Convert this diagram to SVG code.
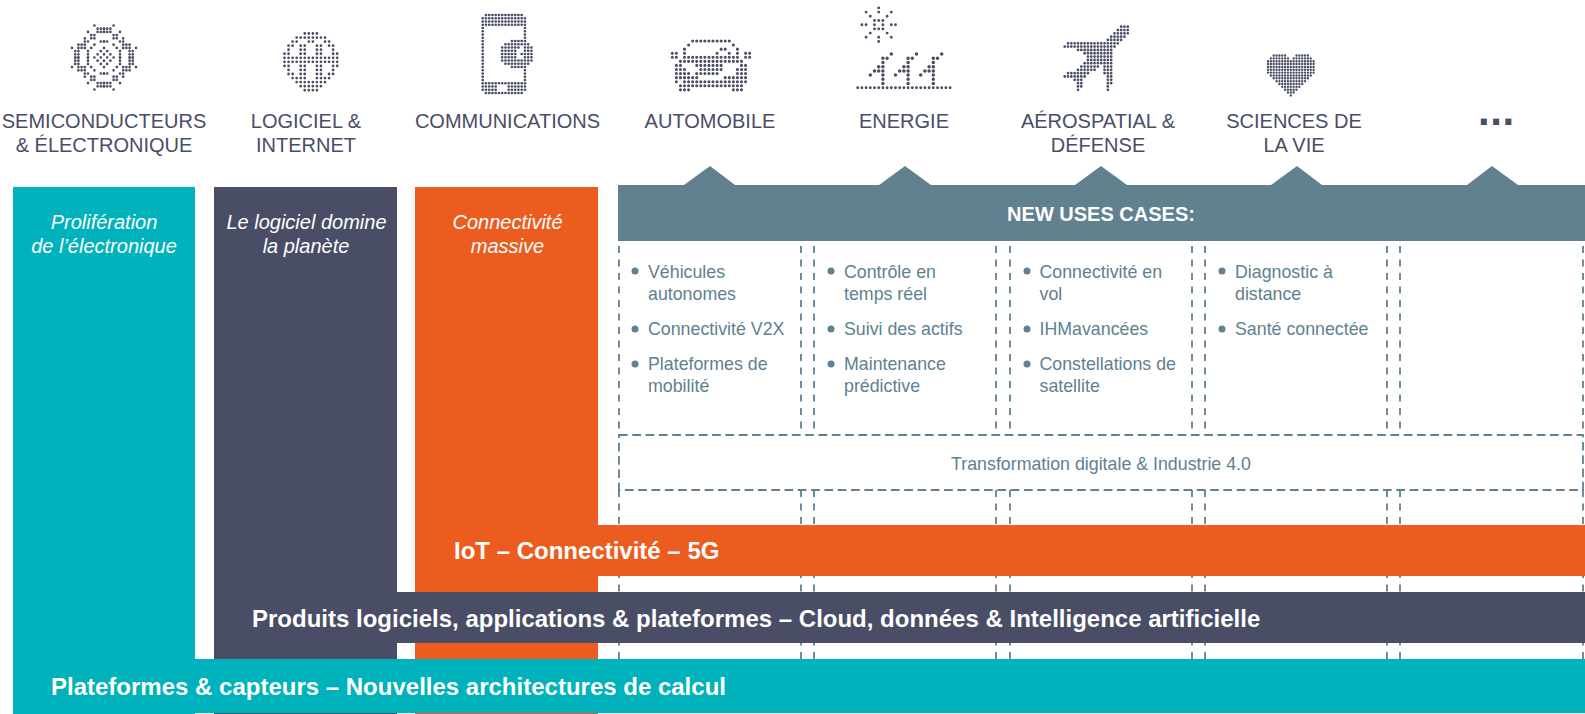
<svg xmlns="http://www.w3.org/2000/svg" xmlns:xlink="http://www.w3.org/1999/xlink" width="1585" height="714" viewBox="0 0 1585 714">
<style>
text{font-family:"Liberation Sans",Arial,sans-serif}
.h{font-size:20px;fill:#4A4D66;text-anchor:middle}
.i{font-size:20px;font-style:italic;fill:#fff;text-anchor:middle}
.b{font-size:24px;font-weight:700;fill:#fff}
.u{font-size:17.8px;fill:#618090}
.d{fill:none;stroke:#4A4D66;stroke-width:.84;stroke-linecap:round;stroke-dasharray:0 1}
.v{fill:none;stroke:#618090;stroke-width:1.8;stroke-dasharray:7 6.5}
.x{fill:none;stroke:#618090;stroke-width:1.8;stroke-dasharray:8.7 4.6}
.t{fill:#618090}
</style>
<defs>
<path id="sq" class="d" d="M-3-10h.1M-2-9H0.1M-5-8h.1M-2-8H0.1M-4-7H-2.9M-6-6h.1M-4-6H-2.9M-6-5H-4.9M-1-5H0.1M-8-4H-5.9M-3-4h.1M-10-3h.1M-8-3H-5.9M-4-3h.1M-9-2H-7.9M-5-2h.1M-9-1H-7.9M-5-1h.1M-9 0H-7.9M-5 0h.1"/>
<path id="pv" class="d" d="M6-7V-.9M8-8h.1M7-7h.1M5-5h.1M4-4h.1M5-4h.1M3-3h.1"/>
</defs>

<g id="bars">
<rect x="13" y="187" width="182" height="527" fill="#00B2BB"/>
<rect x="214" y="187" width="183" height="527" fill="#4A4D66"/>
<rect x="415" y="187" width="183" height="527" fill="#EC5C1F"/>
</g>

<g id="connectors">
<path class="v" d="M801 246V430M814 246V430M996 246V430M1010 246V430M1192 246V430M1205 246V430M1387 246V430M1400 246V430M619 246V430M1583 246V430"/>
<path class="v" d="M619 490V660M801 490V660M814 490V660M996 490V660M1010 490V660M1192 490V660M1205 490V660M1387 490V660M1400 490V660M1583 490V660"/>
</g>

<g id="icon-semi">
<g transform="translate(104 57.5) scale(3.2)">
<use xlink:href="#sq"/><use xlink:href="#sq" transform="scale(-1 1)"/><use xlink:href="#sq" transform="scale(1 -1)"/><use xlink:href="#sq" transform="scale(-1 -1)"/>
<path class="d" d="M0-3h.1M-1-2h.1M-2-1h.1M-3 0h.1M1-2h.1M0-1h.1M-1 0h.1M-2 1h.1M2-1h.1M1 0h.1M0 1h.1M-1 2h.1M3 0h.1M2 1h.1M1 2h.1M0 3h.1"/>
</g>
</g>
<g id="icon-globe">
<path class="d" style="stroke-width:.68" transform="translate(284.5 33.5) scale(4.05)" d="M5 0H8.1M3 1H10.1M2 2H3.1M6 2H7.1M10 2H11.1M1 3H2.1M4 3H5.1M8 3H9.1M11 3H12.1M1 4h.1M4 4H5.1M8 4H9.1M12 4h.1M0 5H1.1M4 5H5.1M8 5H9.1M12 5H13.1M0 6H13.1M0 7H13.1M0 8H1.1M4 8H5.1M8 8H9.1M12 8H13.1M1 9h.1M4 9H5.1M8 9H9.1M12 9h.1M1 10H2.1M4 10H5.1M8 10H9.1M11 10H12.1M2 11H3.1M4 11H5.1M8 11H9.1M10 11H11.1M3 12H10.1M4 13H9.1M5 14H8.1"/>
</g>
<g id="icon-phone">
<path class="d" transform="translate(482.7 15) scale(3.25)" d="M1 0H12.1M0 1H13.1M0 2H13.1M0 3H13.1M0 4V20.1M13 4V7.1M13 17V20.1M9 8H13.1M7 9H14.1M6 10H11.1M13 10H15.1M6 11H10.1M13 11H15.1M6 12H10.1M12 12H15.1M6 13H10.1M13 13H15.1M6 14H15.1M7 15H14.1M9 16H13.1M0 21H13.1M0 22H4.1M8 22H13.1M0 23H4.1M8 23H13.1M1 24H12.1"/>
</g>
<g id="icon-car">
<path class="d" style="stroke-width:.76" transform="translate(672.3 41) scale(4.07)" d="M5 0H14.1M4 1h.1M15 1h.1M3 2h.1M12 2H13.1M16 2h.1M0 3H1.1M3 3h.1M11 3h.1M14 3h.1M16 3h.1M18 3H19.1M0 4H1.1M3 4H16.1M18 4H19.1M2 5H17.1M1 6H2.1M6 6H12.1M17 6H18.1M1 7H3.1M7 7H12.1M16 7H18.1M1 8H4.1M6 8H11.1M16 8H18.1M1 9H6.1M13 9H18.1M1 10h.1M3 10H17.1M18 10h.1M2 11H17.1M2 12H4.1M15 12H17.1"/>
</g>
<g id="icon-energy">
<g transform="translate(857.7 87.7) scale(4.2)">
<path class="d" style="stroke-width:.68" d="M0 0H22.1M5-19V-17.9M5-12V-10.9M1-15H2.1M8-15H9.1M2-18h.1M3-17h.1M8-18h.1M7-17h.1M3-13h.1M2-12h.1M7-13h.1M8-12h.1M4-16H6.1M4-15h.1M6-15h.1M4-14H6.1"/>
<use xlink:href="#pv" style="stroke-width:.68"/><use xlink:href="#pv" x="6"/><use xlink:href="#pv" x="12"/>
</g>
</g>
<g id="icon-plane">
<path class="d" transform="translate(1064.7 26.7) scale(3.32)" d="M17 0H19.1M16 1H19.1M15 2H19.1M14 3H18.1M13 4H17.1M1 5H16.1M0 6H15.1M4 7H14.1M6 8H14.1M7 9H14.1M7 10H14.1M6 11H14.1M5 12H10.1M12 12H14.1M4 13H9.1M12 13H14.1M1 14H7.1M12 14H14.1M0 15H6.1M13 15H14.1M3 16H5.1M13 16H14.1M4 17H5.1M13 17H14.1M4 18H5.1M13 18h.1M4 19h.1M13 19h.1"/>
</g>
<g id="icon-heart">
<path class="d" transform="translate(1268 55.5) scale(2.85)" d="M2 0H6.1M10 0H14.1M1 1H7.1M9 1H15.1M0 2H16.1M0 3H16.1M0 4H16.1M0 5H16.1M0 6H16.1M1 7H15.1M2 8H14.1M3 9H13.1M4 10H12.1M5 11H11.1M6 12H10.1M7 13H9.1M8 14h.1"/>
</g>

<g id="labels">
<text class="h" x="104" y="128">SEMICONDUCTEURS</text><text class="h" x="104" y="152">&amp; ÉLECTRONIQUE</text>
<text class="h" x="306" y="128">LOGICIEL &amp;</text><text class="h" x="306" y="152">INTERNET</text>
<text class="h" x="507.5" y="128">COMMUNICATIONS</text>
<text class="h" x="710" y="128">AUTOMOBILE</text>
<text class="h" x="904" y="128">ENERGIE</text>
<text class="h" x="1098" y="128">AÉROSPATIAL &amp;</text><text class="h" x="1098" y="152">DÉFENSE</text>
<text class="h" x="1294" y="128">SCIENCES DE</text><text class="h" x="1294" y="152">LA VIE</text>
<text x="1478" y="125" style="font-size:42px;font-weight:700;fill:#4A4D66;letter-spacing:.6px">...</text>
</g>

<g id="banner">
<path class="t" d="M618 185H684L710 166L735 185H879L905 166L931 185H1075L1101 166L1127 185H1271L1297 166L1322 185H1467L1492 166L1518 185H1585V241H618Z"/>
<text x="1101" y="221" text-anchor="middle" style="font-size:20px;font-weight:700;fill:#fff">NEW USES CASES:</text>
</g>

<g id="bar-labels">
<text class="i" x="104" y="229">Prolifération</text><text class="i" x="104" y="253">de l’électronique</text>
<text class="i" x="306.5" y="229">Le logiciel domine</text><text class="i" x="306" y="253">la planète</text>
<text class="i" x="507.5" y="229">Connectivité</text><text class="i" x="507.5" y="253">massive</text>
</g>

<g id="uses-auto">
<circle class="t" cx="635" cy="271" r="3.5"/><text class="u" x="648" y="278">Véhicules</text><text class="u" x="648" y="300">autonomes</text>
<circle class="t" cx="635" cy="329" r="3.5"/><text class="u" x="648" y="335">Connectivité V2X</text>
<circle class="t" cx="635" cy="364" r="3.5"/><text class="u" x="648" y="370">Plateformes de</text><text class="u" x="648" y="392">mobilité</text>
</g>
<g id="uses-energy">
<circle class="t" cx="831" cy="271" r="3.5"/><text class="u" x="844" y="278">Contrôle en</text><text class="u" x="844" y="300">temps réel</text>
<circle class="t" cx="831" cy="329" r="3.5"/><text class="u" x="844" y="335">Suivi des actifs</text>
<circle class="t" cx="831" cy="364" r="3.5"/><text class="u" x="844" y="370">Maintenance</text><text class="u" x="844" y="392">prédictive</text>
</g>
<g id="uses-aero">
<circle class="t" cx="1027" cy="271" r="3.5"/><text class="u" x="1039.5" y="278">Connectivité en</text><text class="u" x="1039.5" y="300">vol</text>
<circle class="t" cx="1027" cy="329" r="3.5"/><text class="u" x="1039.5" y="335">IHMavancées</text>
<circle class="t" cx="1027" cy="364" r="3.5"/><text class="u" x="1039.5" y="370">Constellations de</text><text class="u" x="1039.5" y="392">satellite</text>
</g>
<g id="uses-life">
<circle class="t" cx="1222" cy="271" r="3.5"/><text class="u" x="1235" y="278">Diagnostic à</text><text class="u" x="1235" y="300">distance</text>
<circle class="t" cx="1222" cy="329" r="3.5"/><text class="u" x="1235" y="335">Santé connectée</text>
</g>

<g id="transformation">
<rect class="x" x="619" y="435" width="964" height="55"/>
<text class="u" x="1101" y="470" text-anchor="middle">Transformation digitale &amp; Industrie 4.0</text>
</g>

<g id="band-iot"><rect x="415" y="525" width="1170" height="51" fill="#EC5C1F"/><text class="b" x="454" y="559">IoT – Connectivité – 5G</text></g>
<g id="band-software"><rect x="214" y="592" width="1371" height="51" fill="#4A4D66"/><text class="b" x="252" y="627">Produits logiciels, applications &amp; plateformes – Cloud, données &amp; Intelligence artificielle</text></g>
<g id="band-platform"><rect x="13" y="659" width="1572" height="54" fill="#00B2BB"/><text class="b" x="51" y="695">Plateformes &amp; capteurs – Nouvelles architectures de calcul</text></g>
</svg>
